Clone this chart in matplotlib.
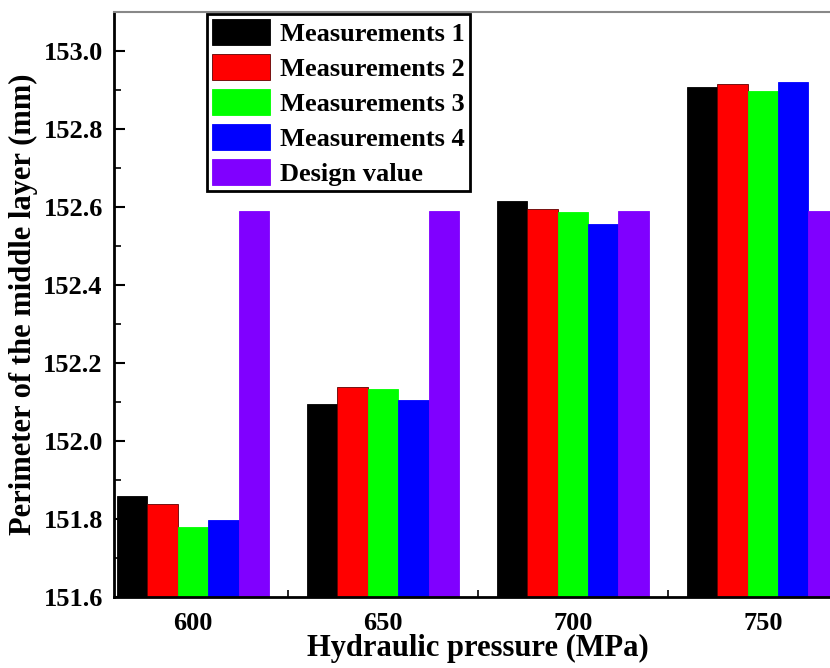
import matplotlib
matplotlib.use("Agg")
import matplotlib.pyplot as plt
import numpy as np
from matplotlib.ticker import MultipleLocator, FixedLocator

plt.rcParams['font.family'] = ['Liberation Serif', 'DejaVu Serif']
plt.rcParams['font.weight'] = 'bold'

pressures = [600, 650, 700, 750]
series_names = ["Measurements 1", "Measurements 2", "Measurements 3", "Measurements 4", "Design value"]
meas1 = [151.858, 152.094, 152.616, 152.908]
meas2 = [151.838, 152.138, 152.595, 152.916]
meas3 = [151.780, 152.132, 152.586, 152.896]
meas4 = [151.798, 152.106, 152.556, 152.921]
design = [152.590, 152.590, 152.590, 152.590]
colors = ["#000000", "#FF0000", "#00FF00", "#0000FF", "#8000FF"]

fig = plt.figure(figsize=(8.3, 6.68), dpi=100)
ax = fig.add_axes([0.1373, 0.1063, 0.877, 0.876])

x = np.array(pressures, dtype=float)
w = 8.0
all_series = [meas1, meas2, meas3, meas4, design]
for i, (vals, name, c) in enumerate(zip(all_series, series_names, colors)):
    ax.bar(x + (i - 2) * w, vals, width=w, color=c, edgecolor=c if i != 1 else "#600000",
           linewidth=0.6, label=name, bottom=0)

ax.set_ylim(151.6, 153.1)
ax.set_xlim(600 - 0.416 * 50, 750 + 0.416 * 50)
ax.yaxis.set_major_locator(FixedLocator([151.6, 151.8, 152.0, 152.2, 152.4, 152.6, 152.8, 153.0]))
ax.yaxis.set_minor_locator(MultipleLocator(0.1))
ax.set_yticklabels(["151.6", "151.8", "152.0", "152.2", "152.4", "152.6", "152.8", "153.0"])
ax.set_xticks(pressures)
ax.set_xticklabels([str(p) for p in pressures])
ax.xaxis.set_minor_locator(FixedLocator([625, 675, 725]))

ax.tick_params(axis='both', which='major', direction='in', length=8, width=1.5,
               labelsize=19, pad=8)
ax.tick_params(axis='both', which='minor', direction='in', length=5, width=1.2)
ax.tick_params(axis='x', which='major', length=0, pad=11)
for lab in ax.get_xticklabels() + ax.get_yticklabels():
    lab.set_fontweight('bold')

ax.spines['left'].set_linewidth(2)
ax.spines['bottom'].set_linewidth(2)
ax.spines['top'].set_linewidth(1.5)
ax.spines['top'].set_color('#888888')

ax.set_xlabel("Hydraulic pressure (MPa)", fontsize=22, fontweight='bold', labelpad=-1)
ax.set_ylabel("Perimeter of the middle layer (mm)", fontsize=22, fontweight='bold', labelpad=4)

leg = ax.legend(loc='upper left', bbox_to_anchor=(0.128, 0.997), borderaxespad=0,
                fancybox=False, framealpha=1, edgecolor='black',
                prop={'family': 'Liberation Serif', 'weight': 'bold', 'size': 19},
                handlelength=2.2, handleheight=1.15, labelspacing=0.3,
                handletextpad=0.35, borderpad=0.2)
leg.get_frame().set_linewidth(2)

fig.savefig("out.png", dpi=100)
